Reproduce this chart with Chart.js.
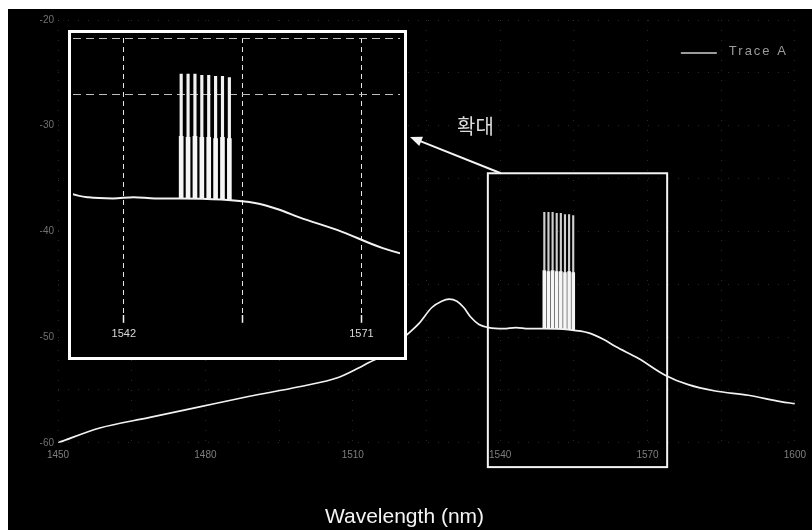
<!DOCTYPE html>
<html>
<head>
<meta charset="utf-8">
<script src="https://cdn.jsdelivr.net/npm/chart.js@4/dist/chart.umd.min.js"></script>
<style>
  html, body { margin: 0; padding: 0; background: #fff; }
  #stage { position: relative; width: 812px; height: 530px; overflow: hidden; background: #fff; }
  #mainWrap { position: absolute; left: 8px; top: 9px; width: 804px; height: 521px; background: #000; }
  #insetWrap { position: absolute; left: 68px; top: 30px; width: 333px; height: 324px; border: 3px solid #fff; background: #000; }
  canvas { display: block; }
  #zoomLabel { position: absolute; left: 457px; top: 111px; font: 20px "Noto Sans CJK KR", sans-serif; color: #dcdcdc; }
</style>
</head>
<body>
<div id="stage">
  <div id="mainWrap"><canvas id="main" width="804" height="521"></canvas></div>
  <div id="insetWrap"><canvas id="inset" width="333" height="324"></canvas></div>
  <div id="zoomLabel">확대</div>
</div>
<script>
// Amplified spontaneous emission background (nm, dBm)
const aseWavelength = [1450.0, 1458.5, 1468.7, 1478.8, 1489.0, 1499.1, 1507.2, 1511.3, 1513.3, 1517.4,
                       1521.0, 1523.5, 1526.1, 1528.1, 1529.6, 1531.2, 1532.6, 1534.0, 1535.7, 1537.7,
                       1540.7, 1543.2, 1545.8, 1548.8, 1553.9, 1558.0, 1561.0, 1563.5, 1568.1, 1573.6,
                       1578.3, 1583.8, 1590.5, 1597.1, 1600.0];
const asePower = [-60.0, -58.6, -57.6, -56.6, -55.6, -54.7, -53.8, -52.9, -52.4, -51.4,
                  -49.8, -48.7, -47.2, -46.6, -46.4, -46.6, -47.2, -48.1, -48.8, -49.1,
                  -49.2, -49.1, -49.2, -49.2, -49.3, -49.6, -50.2, -50.9, -52.0, -53.6,
                  -54.5, -55.1, -55.5, -56.1, -56.3];

// Eight signal channels: floor, shoulder and peak levels (dBm)
const channelWavelength = [1549.0, 1549.84, 1550.68, 1551.52, 1552.36, 1553.2, 1554.04, 1554.88];
const channelBase = [-49.2, -49.2, -49.2, -49.2, -49.2, -49.3, -49.3, -49.3];
const channelShoulder = [-43.7, -43.8, -43.7, -43.8, -43.8, -43.9, -43.8, -43.9];
const channelPeak = [-38.2, -38.2, -38.2, -38.3, -38.3, -38.4, -38.4, -38.5];

// Axis ticks
const mainXTickLabels = [1450, 1480, 1510, 1540, 1570, 1600];
const mainYTickLabels = [-60, -50, -40, -30, -20];
const insetXTicks = [1542, 1556.5, 1571];
const insetXTickLabels = ['1542', '', '1571'];

// Region shown enlarged in the inset (nm, dBm)
const zoomWavelength = [1537.5, 1574.0];
const zoomPower = [-62.3, -34.5];

const seriesName = 'Trace A';

Chart.defaults.font.family = '"Liberation Sans", Arial, sans-serif';
Chart.defaults.animation = false;

const asePoints = aseWavelength.map((w, i) => ({ x: w, y: asePower[i] }));
const pedestalBars = channelWavelength.map((w, i) => ({ x: w, y: [channelBase[i], channelShoulder[i]] }));
const peakBars = channelWavelength.map((w, i) => ({ x: w, y: [channelShoulder[i], channelPeak[i]] }));

function spectrumDatasets(lineWidth, pedestalWidth, peakWidth, peakColor) {
  return [
    { type: 'line', label: seriesName, data: asePoints, borderColor: '#f2f2f2', borderWidth: lineWidth,
      pointRadius: 0, cubicInterpolationMode: 'monotone', fill: false },
    { type: 'bar', label: 'pedestal', data: pedestalBars, backgroundColor: '#f6f6f6',
      barThickness: pedestalWidth, grouped: false, borderWidth: 0 },
    { type: 'bar', label: 'peak', data: peakBars, backgroundColor: peakColor,
      barThickness: peakWidth, grouped: false, borderWidth: 0 }
  ];
}

// Zoom frame, arrow and series key on the full-range plot
const overlayPlugin = {
  id: 'overlay',
  afterDraw(chart) {
    const { ctx, chartArea, scales: { x, y } } = chart;
    const l = x.getPixelForValue(zoomWavelength[0]);
    const r = x.getPixelForValue(zoomWavelength[1]);
    const t = y.getPixelForValue(zoomPower[1]);
    const b = y.getPixelForValue(zoomPower[0]);
    ctx.save();
    ctx.strokeStyle = '#f4f4f4';
    ctx.lineWidth = 2;
    ctx.strokeRect(l, t, r - l, b - t);

    // arrow pointing to the enlarged view
    const sx = l + 13, sy = t;
    const ex = 402, ey = 128;
    const ang = Math.atan2(ey - sy, ex - sx);
    ctx.beginPath();
    ctx.moveTo(sx, sy);
    ctx.lineTo(ex - 9 * Math.cos(ang), ey - 9 * Math.sin(ang));
    ctx.stroke();
    ctx.fillStyle = '#f4f4f4';
    ctx.beginPath();
    ctx.moveTo(ex, ey);
    ctx.lineTo(ex - 12 * Math.cos(ang) + 5 * Math.sin(ang), ey - 12 * Math.sin(ang) - 5 * Math.cos(ang));
    ctx.lineTo(ex - 12 * Math.cos(ang) - 5 * Math.sin(ang), ey - 12 * Math.sin(ang) + 5 * Math.cos(ang));
    ctx.closePath();
    ctx.fill();

    // series key
    const ds = chart.data.datasets[0];
    ctx.font = '13px "Liberation Sans", Arial, sans-serif';
    ctx.letterSpacing = '2px';
    const tw = ctx.measureText(ds.label).width;
    const ky = chartArea.top + 33;
    const tx = chartArea.right - 7 - tw;
    ctx.fillStyle = '#9a9a9a';
    ctx.textBaseline = 'middle';
    ctx.fillText(ds.label, tx, ky - 2);
    ctx.strokeStyle = '#cfcfcf';
    ctx.lineWidth = 1.5;
    ctx.beginPath();
    ctx.moveTo(tx - 12 - 36, ky);
    ctx.lineTo(tx - 12, ky);
    ctx.stroke();
    ctx.restore();
  }
};

new Chart(document.getElementById('main'), {
  type: 'line',
  data: { datasets: spectrumDatasets(1.7, 3, 1.5, '#cfcfcf') },
  options: {
    responsive: false,
    events: [],
    layout: { padding: { left: 4, right: 15, top: 11, bottom: 0 } },
    plugins: {
      legend: { display: false },
      tooltip: { enabled: false },
      title: { display: true, text: 'Wavelength (nm)', position: 'bottom', color: '#f4f4f4',
               font: { size: 21, weight: 'normal' }, padding: { top: 9, bottom: 0 } }
    },
    scales: {
      x: {
        type: 'linear', min: 1450, max: 1600, offset: false,
        afterFit: s => { s.height = 53; },
        ticks: { stepSize: 15, color: '#7e7e7e', font: { size: 10 }, padding: 6, maxRotation: 0, autoSkip: false,
                 callback: v => mainXTickLabels.includes(v) ? String(v) : '' },
        grid: { color: 'rgba(255,255,255,0.16)', drawTicks: false, offset: false },
        border: { display: false, dash: [1, 9] }
      },
      y: {
        type: 'linear', min: -60, max: -20, beginAtZero: false,
        afterFit: s => { s.width = 46; },
        ticks: { stepSize: 5, color: '#707070', font: { size: 10 }, padding: 4,
                 callback: v => mainYTickLabels.includes(v) ? String(v) : '' },
        grid: { color: 'rgba(255,255,255,0.16)', drawTicks: false },
        border: { display: false, dash: [1, 9] }
      }
    }
  },
  plugins: [overlayPlugin]
});

new Chart(document.getElementById('inset'), {
  type: 'line',
  data: { datasets: spectrumDatasets(2, 4, 2.5, '#f2f2f2') },
  options: {
    responsive: false,
    events: [],
    layout: { padding: { left: 2, right: 4, top: 5, bottom: 11 } },
    plugins: { legend: { display: false }, tooltip: { enabled: false } },
    scales: {
      x: {
        type: 'linear', min: 1535.8, max: 1575.7, offset: false,
        afterBuildTicks: s => { s.ticks = insetXTicks.map(v => ({ value: v })); },
        ticks: { color: '#d8d8d8', font: { size: 11 }, padding: 5, maxRotation: 0, autoSkip: false,
                 callback: (v, i) => insetXTickLabels[i] },
        grid: { color: '#e6e6e6', lineWidth: 1, offset: false, drawTicks: true, tickLength: 8,
                tickColor: '#f2f2f2', tickWidth: 1.5 },
        border: { display: false, dash: [5, 4] }
      },
      y: {
        type: 'linear', min: -59.5, max: -35, beginAtZero: false,
        ticks: { display: false, stepSize: 5 },
        grid: { drawTicks: false, lineWidth: 1,
                color: c => (c.tick && c.tick.value >= -40) ? '#bdbdbd' : 'rgba(0,0,0,0)' },
        border: { display: false, dash: [8, 5] }
      }
    }
  }
});
</script>
</body>
</html>
